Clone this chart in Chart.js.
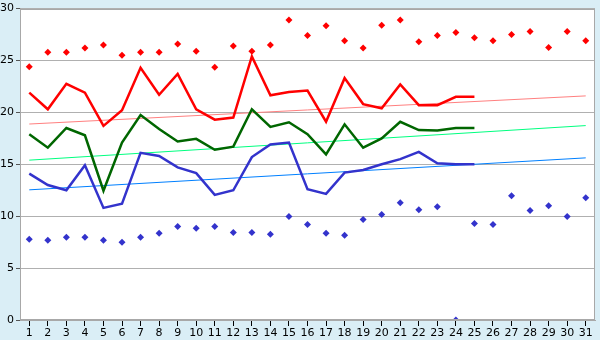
<!DOCTYPE html>
<html>
<head>
<meta charset="utf-8">
<script src="https://cdn.jsdelivr.net/npm/chart.js@4"></script>
<style>
  html, body { margin: 0; padding: 0; background: #daeef6; }
  #wrap { width: 600px; height: 340px; }
</style>
</head>
<body>
<div id="wrap"><canvas id="chartCanvas" width="600" height="340"></canvas></div>
<script>
// Days of the month
const days = ['1','2','3','4','5','6','7','8','9','10','11','12','13','14','15','16',
              '17','18','19','20','21','22','23','24','25','26','27','28','29','30','31'];

// Daily max markers (red diamonds) and min markers (blue diamonds)
const maxPoints = [24.4, 25.8, 25.8, 26.2, 26.5, 25.5, 25.8, 25.8, 26.6, 25.9, 24.35, 26.4, 25.9, 26.5, 28.9, 27.4,
                   28.35, 26.9, 26.2, 28.4, 28.9, 26.8, 27.4, 27.7, 27.2, 26.9, 27.5, 27.8, 26.25, 27.8, 26.9];
const minPoints = [7.78, 7.68, 7.97, 7.97, 7.68, 7.49, 7.97, 8.35, 9.0, 8.83, 9.0, 8.44, 8.44, 8.25, 9.97, 9.2,
                   8.35, 8.16, 9.68, 10.16, 11.3, 10.63, 10.92, 0, 9.3, 9.2, 11.97, 10.54, 11.0, 9.97, 11.78];

// Line series (days 1-25)
const redLine = [21.9, 20.3, 22.76, 21.9, 18.7, 20.2, 24.3, 21.7, 23.7, 20.3, 19.3, 19.5, 25.4, 21.65, 21.97, 22.1,
                 19.1, 23.3, 20.8, 20.4, 22.7, 20.7, 20.7, 21.5, 21.5];
const greenLine = [17.9, 16.6, 18.5, 17.8, 12.45, 17.1, 19.75, 18.4, 17.2, 17.45, 16.4, 16.7, 20.3, 18.6, 19.05, 17.9,
                   15.95, 18.85, 16.6, 17.5, 19.1, 18.3, 18.25, 18.5, 18.5];
const blueLine = [14.1, 13.0, 12.5, 14.9, 10.8, 11.2, 16.1, 15.8, 14.7, 14.15, 12.05, 12.5, 15.7, 16.9, 17.1, 12.6,
                  12.15, 14.2, 14.45, 15.0, 15.5, 16.2, 15.1, 15.0, 15.0];

// Trend lines: values at first and last day
const trendDays = ['1', '31'];
const redTrend = [18.88, 21.59];
const greenTrend = [15.4, 18.73];
const blueTrend = [12.54, 15.62];

const yTicks = [0, 5, 10, 15, 20, 25, 30];

function trendData(vals) {
    return trendDays.map((d, i) => ({ x: d, y: vals[i] }));
}

function lineSet(data, color, width) {
    return {
        type: 'line',
        data: data,
        borderColor: color,
        backgroundColor: color,
        borderWidth: width,
        pointRadius: 0,
        tension: 0,
        fill: false
    };
}

function markerSet(data, color) {
    return {
        type: 'line',
        data: data,
        showLine: false,
        pointStyle: 'rectRot',
        pointRadius: 3.5,
        pointBorderWidth: 0,
        pointBackgroundColor: color,
        pointBorderColor: color,
        borderColor: color
    };
}

// White plot area and grey frame around it
const plotFrame = {
    id: 'plotFrame',
    beforeDraw(chart) {
        const { ctx, chartArea: a } = chart;
        ctx.save();
        ctx.fillStyle = '#daeef6';
        ctx.fillRect(0, 0, chart.width, chart.height);
        ctx.fillStyle = '#ffffff';
        ctx.fillRect(a.left, a.top, a.right - a.left, a.bottom - a.top);
        ctx.restore();
    },
    afterDraw(chart) {
        const { ctx, chartArea: a } = chart;
        ctx.save();
        ctx.strokeStyle = '#a8a8a8';
        ctx.lineWidth = 1;
        ctx.strokeRect(Math.round(a.left) + 0.5, Math.round(a.top) + 0.5,
                       Math.round(a.right - a.left) - 1, Math.round(a.bottom - a.top) - 1);
        ctx.restore();
    }
};

const ctx = document.getElementById('chartCanvas').getContext('2d');
new Chart(ctx, {
    data: {
        labels: days,
        datasets: [
            markerSet(maxPoints, '#ff0000'),
            markerSet(minPoints, '#3333cc'),
            lineSet(redLine, '#ff0000', 2.5),
            lineSet(greenLine, '#006600', 2.5),
            lineSet(blueLine, '#3333cc', 2.5),
            lineSet(trendData(redTrend), '#ff8080', 1),
            lineSet(trendData(greenTrend), '#00ff80', 1),
            lineSet(trendData(blueTrend), '#0080ff', 1)
        ]
    },
    options: {
        responsive: false,
        animation: false,
        layout: { padding: { left: 0, right: 5, top: 5, bottom: 0 } },
        plugins: {
            legend: { display: false },
            tooltip: { enabled: false }
        },
        scales: {
            x: {
                type: 'category',
                offset: true,
                grid: {
                    offset: false,
                    drawOnChartArea: false,
                    tickLength: 6,
                    tickColor: '#000000'
                },
                border: { color: '#a8a8a8' },
                ticks: {
                    color: '#000000',
                    padding: 1,
                    maxRotation: 0,
                    autoSkip: false,
                    font: { family: 'DejaVu Sans', size: 11 }
                },
                afterFit(scale) { scale.height = 20; }
            },
            y: {
                min: 0,
                max: 30,
                afterBuildTicks(scale) { scale.ticks = yTicks.map(v => ({ value: v })); },
                grid: {
                    color: '#b0b0b0',
                    tickLength: 4,
                    tickColor: '#555555'
                },
                border: { color: '#a8a8a8' },
                ticks: {
                    color: '#000000',
                    padding: 2,
                    font: { family: 'DejaVu Sans', size: 11 }
                },
                afterFit(scale) { scale.width = 20; }
            }
        }
    },
    plugins: [plotFrame]
});
</script>
</body>
</html>
